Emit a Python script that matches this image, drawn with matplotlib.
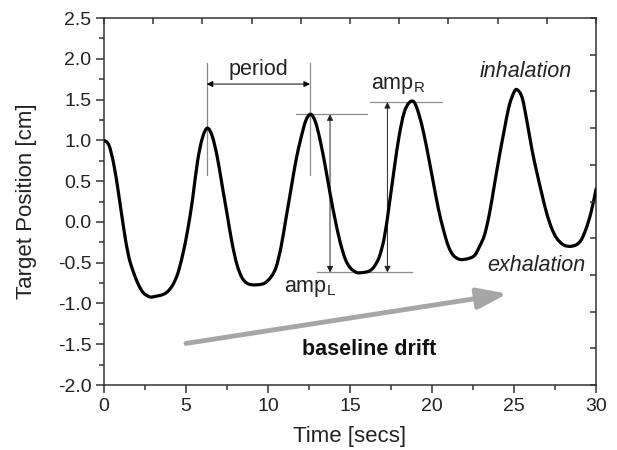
import matplotlib
matplotlib.use("Agg")
import matplotlib.pyplot as plt
from matplotlib.ticker import MultipleLocator
from matplotlib.path import Path
from matplotlib.patches import PathPatch

plt.rcParams['font.family'] = ['Liberation Sans', 'DejaVu Sans']
plt.rcParams['mathtext.fontset'] = 'custom'
plt.rcParams['mathtext.rm'] = 'Liberation Sans'

# Breathing trace (time [s], position [cm])
time_s = [0.0, 0.3, 0.6, 0.9, 1.2, 1.5, 1.8, 2.1, 2.4, 2.8, 3.2, 3.6, 3.9, 4.2, 4.5,
          4.8, 5.1, 5.4, 5.7, 6.0, 6.3, 6.6, 6.9, 7.2, 7.5, 7.8, 8.1, 8.4, 8.7, 9.0,
          9.4, 9.8, 10.2, 10.5, 10.8, 11.1, 11.4, 11.7, 12.0, 12.3, 12.6, 12.9, 13.2,
          13.5, 13.8, 14.1, 14.4, 14.7, 15.0, 15.4, 15.8, 16.2, 16.5, 16.8, 17.1,
          17.4, 17.7, 18.0, 18.3, 18.6, 18.9, 19.2, 19.5, 19.8, 20.1, 20.4, 20.7,
          21.0, 21.3, 21.7, 22.2, 22.6, 22.9, 23.2, 23.5, 23.8, 24.1, 24.4, 24.7,
          25.0, 25.2, 25.5, 25.8, 26.1, 26.4, 26.7, 27.0, 27.3, 27.6, 28.0, 28.4,
          28.8, 29.1, 29.4, 29.7, 30.0]
position_cm = [1.00, 0.94, 0.70, 0.33, -0.08, -0.42, -0.62, -0.77, -0.87, -0.92, -0.91,
               -0.89, -0.85, -0.77, -0.63, -0.40, -0.10, 0.28, 0.74, 1.03, 1.15, 1.05,
               0.80, 0.45, 0.10, -0.25, -0.52, -0.68, -0.75, -0.77, -0.77, -0.75, -0.67,
               -0.55, -0.30, 0.05, 0.40, 0.75, 1.02, 1.24, 1.32, 1.22, 0.98, 0.67, 0.33,
               0.02, -0.25, -0.45, -0.56, -0.62, -0.62, -0.60, -0.54, -0.42, -0.18, 0.22,
               0.66, 1.06, 1.34, 1.46, 1.47, 1.32, 1.08, 0.78, 0.46, 0.15, -0.10, -0.30,
               -0.41, -0.46, -0.45, -0.41, -0.30, -0.16, 0.10, 0.45, 0.80, 1.12, 1.42,
               1.59, 1.62, 1.52, 1.22, 0.88, 0.60, 0.34, 0.10, -0.08, -0.20, -0.28,
               -0.30, -0.28, -0.22, -0.08, 0.12, 0.40]

# Annotation anchors
peak_times = [6.26, 12.56, 18.82]
peak_levels = [1.15, 1.32, 1.47]
trough_level = -0.62
drift_start = (5.0, -1.49)
drift_end = (24.6, -0.88)

x_ticks = [0, 5, 10, 15, 20, 25, 30]
y_ticks = [-2.0, -1.5, -1.0, -0.5, 0.0, 0.5, 1.0, 1.5, 2.0, 2.5]

fig = plt.figure(figsize=(6.17, 4.5), dpi=100)
ax = fig.add_axes([0.1686, 0.1444, 0.7974, 0.8156])


def smooth_path(xs, ys):
    """Catmull-Rom curve through the points, drawn as cubic Bezier segments."""
    n = len(xs)
    verts = [(xs[0], ys[0])]
    codes = [Path.MOVETO]
    for i in range(n - 1):
        x0, y0 = (xs[i - 1], ys[i - 1]) if i > 0 else (xs[i], ys[i])
        x1, y1 = xs[i], ys[i]
        x2, y2 = xs[i + 1], ys[i + 1]
        x3, y3 = (xs[i + 2], ys[i + 2]) if i + 2 < n else (x2, y2)
        c1 = (x1 + (x2 - x0) / 6.0, y1 + (y2 - y0) / 6.0)
        c2 = (x2 - (x3 - x1) / 6.0, y2 - (y3 - y1) / 6.0)
        verts += [c1, c2, (x2, y2)]
        codes += [Path.CURVE4] * 3
    return Path(verts, codes)


ax.add_patch(PathPatch(smooth_path(time_s, position_cm), facecolor='none',
                       edgecolor='black', lw=2.3, zorder=5, capstyle='round',
                       joinstyle='round'))

ax.set_xlim(0, 30)
ax.set_ylim(-2.0, 2.5)
ax.set_xticks(x_ticks)
ax.set_yticks(y_ticks)
ax.set_yticklabels([f"{v:.1f}" for v in y_ticks])
ax.xaxis.set_minor_locator(MultipleLocator(2.5))
ax.yaxis.set_minor_locator(MultipleLocator(0.25))
ax.tick_params(which='major', direction='out', length=6, width=1.1, colors='#333333',
               labelsize=14, labelcolor='#222222', pad=3)
ax.tick_params(which='minor', direction='out', length=3.5, width=1.1, colors='#333333')
for sp in ax.spines.values():
    sp.set_linewidth(1.1)
    sp.set_color('#333333')

# top / right unlabeled ticks (inward)
axt = ax.twiny()
axt.set_xlim(0, 30)
axt.set_xticks([i * 3 for i in range(11)])
axt.tick_params(axis='x', direction='in', length=4, width=1.1, colors='#333333',
                labeltop=False)
axr = ax.twinx()
axr.set_ylim(0, 10)
axr.set_yticks(range(11))
axr.tick_params(axis='y', direction='in', length=4, width=1.1, colors='#333333',
                labelright=False)
for a in (axt, axr):
    for sp in a.spines.values():
        sp.set_visible(False)

ax.set_xlabel('Time [secs]', fontsize=16, color='#222222', labelpad=8.5)
ax.set_ylabel('Target Position [cm]', fontsize=16, color='#222222', labelpad=15)

gray = '#8c8c8c'
glw = 0.9
fs = 15.5
# period markers
for t in peak_times[:2]:
    ax.plot([t, t], [0.58, 1.95], color=gray, lw=glw, zorder=3)
ax.annotate('', xy=(peak_times[0], 1.69), xytext=(peak_times[1], 1.69),
            arrowprops=dict(arrowstyle='<|-|>', color='black', lw=0.7,
                            mutation_scale=9, shrinkA=0, shrinkB=0))
ax.text((peak_times[0] + peak_times[1]) / 2, 1.87, 'period', fontsize=fs,
        ha='center', va='center', color='#222222')

# amp_L
ax.plot([11.69, 16.06], [peak_levels[1]] * 2, color=gray, lw=glw, zorder=3)
ax.plot([13.0, 18.76], [trough_level] * 2, color=gray, lw=glw, zorder=3)
ax.annotate('', xy=(13.78, peak_levels[1]), xytext=(13.78, trough_level),
            arrowprops=dict(arrowstyle='<|-|>', color='#222222', lw=0.7,
                            mutation_scale=9, shrinkA=0, shrinkB=0))
ax.text(11.0, -0.86, r'amp$_\mathrm{L}$', fontsize=fs, ha='left', va='baseline',
        color='#222222')

# amp_R
ax.plot([16.22, 20.59], [peak_levels[2]] * 2, color=gray, lw=glw, zorder=3)
ax.annotate('', xy=(17.28, peak_levels[2]), xytext=(17.28, trough_level),
            arrowprops=dict(arrowstyle='<|-|>', color='#222222', lw=0.7,
                            mutation_scale=9, shrinkA=0, shrinkB=0))
ax.text(16.3, 1.63, r'amp$_\mathrm{R}$', fontsize=fs, ha='left', va='baseline',
        color='#222222')

ax.text(25.7, 1.84, 'inhalation', fontsize=fs, style='italic', ha='center',
        va='center', color='#222222')
ax.text(26.35, -0.53, 'exhalation', fontsize=fs, style='italic', ha='center',
        va='center', color='#222222')

# baseline drift arrow
ax.annotate('', xy=drift_end, xytext=drift_start,
            arrowprops=dict(arrowstyle='-|>,head_length=1.0,head_width=0.35',
                            color='#a6a6a6', lw=3.5, mutation_scale=18,
                            shrinkA=0, shrinkB=0))
ax.text(16.15, -1.56, 'baseline drift', fontsize=fs, fontweight='bold',
        ha='center', va='center', color='#111111')

fig.savefig('out.png', dpi=100)
